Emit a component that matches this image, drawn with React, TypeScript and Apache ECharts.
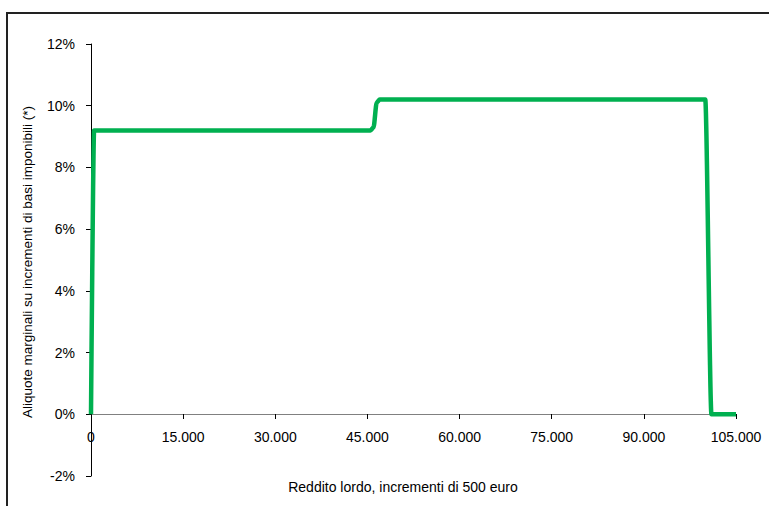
import React, { useEffect, useRef } from "react";
import * as echarts from "echarts";

const incomes = [0, 500, 45500, 46000, 46500, 47000, 100000, 101000, 105000];
const rates = [0, 9.2, 9.2, 9.3, 10.1, 10.2, 10.2, 0, 0];
const yTicks = { min: -2, max: 12, interval: 2 };
const xTicks = { min: 0, max: 105000, interval: 15000 };
const xName = "Reddito lordo, incrementi di 500 euro";
const yName = "Aliquote marginali su incrementi di basi imponibili (*)";

export default function App() {
  const ref = useRef<HTMLDivElement>(null);
  useEffect(() => {
    const chart = echarts.init(ref.current!, null, { renderer: "svg" });
    const font = "'Liberation Sans', Arial, sans-serif";
    chart.setOption({
      animation: false,
      backgroundColor: "#ffffff",
      grid: { left: 91, right: 33, top: 44, bottom: 30, containLabel: false },
      xAxis: {
        type: "value",
        position: "bottom",
        offset: -62,
        min: xTicks.min,
        max: xTicks.max,
        interval: xTicks.interval,
        axisLine: { onZero: false, lineStyle: { color: "#808080", width: 1 } },
        axisTick: { show: true, inside: false, length: 5, lineStyle: { color: "#000" } },
        splitLine: { show: false },
        axisLabel: {
          margin: 16,
          color: "#000",
          fontFamily: font,
          fontSize: 14,
          formatter: (v: number) => (v === 0 ? "0" : v.toLocaleString("de-DE")),
        },
      },
      yAxis: {
        type: "value",
        min: yTicks.min,
        max: yTicks.max,
        interval: yTicks.interval,
        axisLine: { show: true, lineStyle: { color: "#000", width: 1 } },
        axisTick: { show: true, inside: false, length: 5, lineStyle: { color: "#000" } },
        splitLine: { show: false },
        axisLabel: {
          margin: 16,
          color: "#000",
          fontFamily: font,
          fontSize: 14,
          formatter: (v: number) => v + "%",
        },
      },
      graphic: [
        {
          type: "rect",
          shape: { x: 7, y: 13, width: 1000, height: 1000 },
          style: { fill: "none", stroke: "#222", lineWidth: 2 },
          silent: true,
          z: -1,
        },
        {
          type: "text",
          x: 403,
          y: 487,
          style: {
            text: xName,
            fontFamily: font,
            fontSize: 14,
            fill: "#000",
            align: "center",
            verticalAlign: "middle",
          },
        },
        {
          type: "text",
          x: 27,
          y: 262,
          rotation: Math.PI / 2,
          style: {
            text: yName,
            fontFamily: font,
            fontSize: 13.5,
            fill: "#000",
            align: "center",
            verticalAlign: "middle",
          },
        },
      ],
      series: [
        {
          type: "line",
          data: incomes.map((x, i) => [x, rates[i]]),
          showSymbol: false,
          smooth: 0.25,
          smoothMonotone: "x",
          lineStyle: { color: "#00B050", width: 4.5 },
          clip: false,
        },
      ],
    });
    return () => chart.dispose();
  }, []);
  return (
    <div
      ref={ref}
      style={{ position: "fixed", left: 0, top: 0, width: 769, height: 506 }}
    />
  );
}
